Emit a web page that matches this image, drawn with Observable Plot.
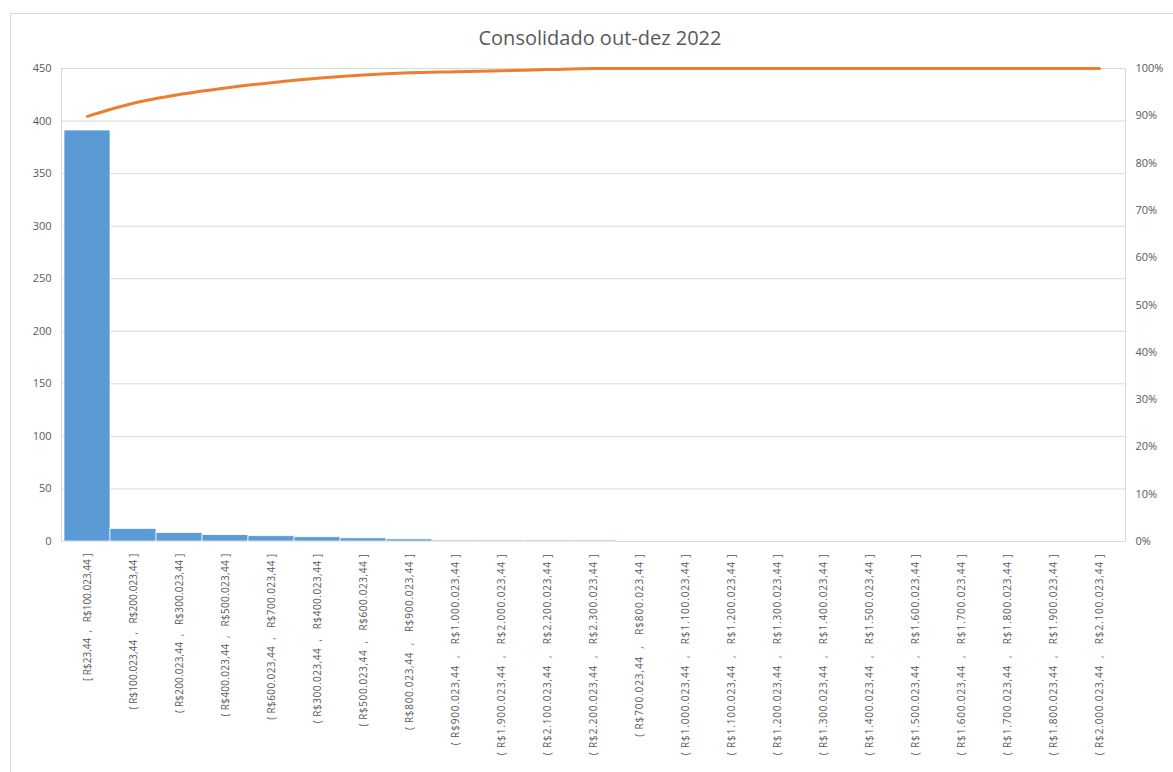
<!DOCTYPE html>
<html>
<head>
<meta charset="utf-8">
<script src="https://cdn.jsdelivr.net/npm/d3@7"></script>
<script src="https://cdn.jsdelivr.net/npm/@observablehq/plot@0.6"></script>
<style>
  html, body { margin: 0; padding: 0; background: white; }
  #wrap { position: relative; width: 1173px; height: 772px; overflow: hidden; }
  #frame { position: absolute; left: 10px; top: 13px; right: -2px; bottom: -2px; border: 1px solid #d9d9d9; pointer-events: none; }
  #title { position: absolute; left: 68px; width: 1064px; top: 24px; text-align: center; font-family: "Open Sans", sans-serif; font-size: 20px; color: #595959; }
  svg { display: block; }
</style>
</head>
<body>
<div id="wrap">
  <div id="chart"></div>
  <div id="frame"></div>
  <div id="title">Consolidado out-dez 2022</div>
</div>
<script>
const categories = [
  "[ R$23,44 , R$100.023,44 ]",
  "( R$100.023,44 , R$200.023,44 ]",
  "( R$200.023,44 , R$300.023,44 ]",
  "( R$400.023,44 , R$500.023,44 ]",
  "( R$600.023,44 , R$700.023,44 ]",
  "( R$300.023,44 , R$400.023,44 ]",
  "( R$500.023,44 , R$600.023,44 ]",
  "( R$800.023,44 , R$900.023,44 ]",
  "( R$900.023,44 , R$1.000.023,44 ]",
  "( R$1.900.023,44 , R$2.000.023,44 ]",
  "( R$2.100.023,44 , R$2.200.023,44 ]",
  "( R$2.200.023,44 , R$2.300.023,44 ]",
  "( R$700.023,44 , R$800.023,44 ]",
  "( R$1.000.023,44 , R$1.100.023,44 ]",
  "( R$1.100.023,44 , R$1.200.023,44 ]",
  "( R$1.200.023,44 , R$1.300.023,44 ]",
  "( R$1.300.023,44 , R$1.400.023,44 ]",
  "( R$1.400.023,44 , R$1.500.023,44 ]",
  "( R$1.500.023,44 , R$1.600.023,44 ]",
  "( R$1.600.023,44 , R$1.700.023,44 ]",
  "( R$1.700.023,44 , R$1.800.023,44 ]",
  "( R$1.800.023,44 , R$1.900.023,44 ]",
  "( R$2.000.023,44 , R$2.100.023,44 ]"
];
const counts = [391, 12, 8, 6, 5, 4, 3, 2, 1, 1, 1, 1, 0, 0, 0, 0, 0, 0, 0, 0, 0, 0, 0];
const countTicks = [0, 50, 100, 150, 200, 250, 300, 350, 400, 450];
const pctTicks = [0, 10, 20, 30, 40, 50, 60, 70, 80, 90, 100];

const yMax = 450;
const total = d3.sum(counts);
let run = 0;
const data = categories.map((cat, i) => {
  run += counts[i];
  return {cat, count: counts[i], cum: run / total};
});

const NB = "\u00a0";
const spaced = s => s
  .replace(/ , /, NB + NB + "," + NB + NB + NB)
  .replace(/ \]$/, NB + "]");

const chart = Plot.plot({
  width: 1173,
  height: 772,
  marginLeft: 61,
  marginRight: 48,
  marginTop: 68,
  marginBottom: 231,
  style: {fontFamily: "'Open Sans', sans-serif", color: "#595959", background: "white", overflow: "visible"},
  x: {domain: categories, padding: 0, label: null},
  y: {domain: [0, yMax], label: null},
  marks: [
    Plot.gridY(countTicks, {stroke: "#d9d9d9", strokeOpacity: 1}),
    Plot.frame({stroke: "#d9d9d9"}),
    Plot.barY(data.filter(d => d.count > 0), {x: "cat", y: "count", fill: "#5b9bd5", stroke: "white", strokeWidth: 0.7}),
    Plot.line(data, {x: "cat", y: d => d.cum * yMax, stroke: "#ed7d31", strokeWidth: 3, curve: "monotone-x"}),
    Plot.axisY(countTicks, {anchor: "left", tickSize: 0, tickPadding: 10, fontSize: 11, label: null}),
    Plot.axisY(pctTicks.map(p => p / 100 * yMax), {anchor: "right", tickSize: 0, tickPadding: 10, fontSize: 11, label: null, tickFormat: d => `${Math.round(d / yMax * 100)}%`}),
    Plot.axisX({tickRotate: -90, tickSize: 0, tickPadding: 12, fontSize: 10, label: null, tickFormat: spaced})
  ]
});
// the original's rotated labels grow slightly longer from left to right
d3.select(chart).selectAll('g[aria-label="x-axis tick label"] text').each(function(_, i) {
  const t = this.textContent;
  const ls = /R\$\d\.\d{3}\.\d{3}/.test(t) ? 0.85 : Math.min(0.1 * i, 0.9);
  this.setAttribute("letter-spacing", ls);
});
document.getElementById("chart").appendChild(chart);
</script>
</body>
</html>
